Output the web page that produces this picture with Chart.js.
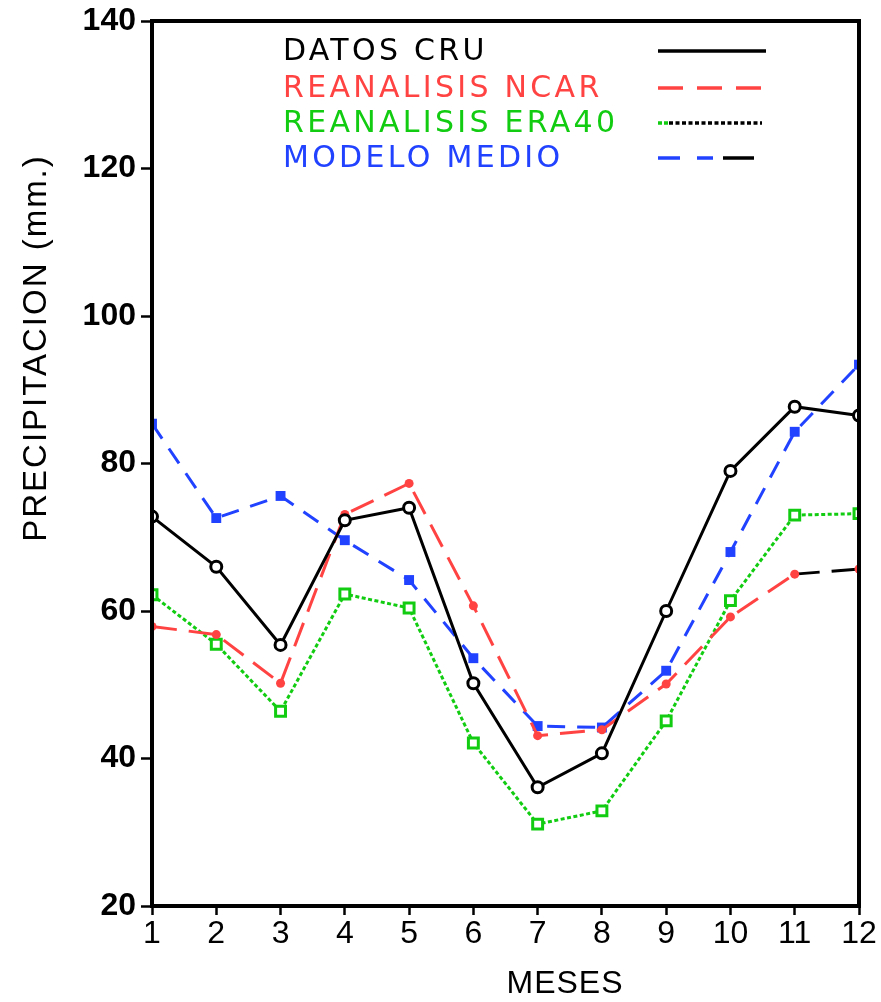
<!DOCTYPE html>
<html>
<head>
<meta charset="utf-8">
<script src="https://cdn.jsdelivr.net/npm/chart.js@4"></script>
<style>
html, body { margin: 0; padding: 0; background: #fff; }
canvas { display: block; }
</style>
</head>
<body>
<canvas id="grafico" width="881" height="1002"></canvas>
<script>
// ================= DATOS =================

const meses = ["1", "2", "3", "4", "5", "6", "7", "8", "9", "10", "11", "12"];

const datosCru = [72.8, 66.0, 55.4, 72.3, 74.0, 50.2, 36.1, 40.7, 60.0, 79.0, 87.7, 86.5];
const reanalisisNcar = [57.9, 56.8, 50.2, 73.1, 77.3, 60.7, 43.1, 43.9, 50.1, 59.2, 65.0, 65.7];
const reanalisisEra40 = [62.2, 55.5, 46.4, 62.3, 60.4, 42.1, 31.1, 32.9, 45.1, 61.4, 73.0, 73.2];
const modeloMedio = [85.4, 72.6, 75.6, 69.6, 64.2, 53.6, 44.4, 44.2, 51.9, 68.0, 84.3, 93.4];

const ticksY = [20, 40, 60, 80, 100, 120, 140];

const ROJO = "#ff4343";
const VERDE = "#12cc12";
const AZUL = "#2142ff";

const fuente = "'Liberation Sans', Arial, sans-serif";

// ================= LEYENDA Y TITULOS =================

const leyendaPlugin = {
    id: "leyenda",
    afterDraw(chart) {
        const ctx = chart.ctx;
        const area = chart.chartArea;

        // marco
        ctx.save();
        ctx.strokeStyle = "#000";
        ctx.lineWidth = 4;
        ctx.strokeRect(area.left, area.top, area.right - area.left, area.bottom - area.top);
        ctx.restore();

        // textos de leyenda
        const filas = [51, 88, 123, 158];
        ctx.save();
        ctx.font = "30px 'DejaVu Sans'";
        ctx.letterSpacing = "3.3px";
        ctx.textBaseline = "middle";
        chart.data.datasets.forEach((ds, i) => {
            ctx.fillStyle = ds.borderColor;
            ctx.fillText(ds.label, 283, filas[i] + 1);
        });
        ctx.restore();

        // muestras de linea
        const tramo = (x1, x2, y, color, dash) => {
            ctx.save();
            ctx.strokeStyle = color;
            ctx.lineWidth = 3.5;
            ctx.setLineDash(dash);
            ctx.beginPath();
            ctx.moveTo(x1, y);
            ctx.lineTo(x2, y);
            ctx.stroke();
            ctx.restore();
        };
        tramo(658, 766, filas[0], "#000", []);
        tramo(658, 766, filas[1], ROJO, [25, 14]);
        tramo(658, 668, filas[2], VERDE, [4, 2]);
        tramo(669, 762, filas[2], "#000", [4, 2.5]);
        tramo(658, 680, filas[3], AZUL, []);
        tramo(697, 713, filas[3], AZUL, []);
        tramo(723, 754, filas[3], "#000", []);

        // titulos de ejes
        ctx.save();
        ctx.fillStyle = "#000";
        ctx.font = "32px " + fuente;
        ctx.letterSpacing = "1px";
        ctx.textAlign = "center";
        ctx.textBaseline = "middle";
        ctx.fillText("MESES", 565, 984);
        ctx.font = "33px " + fuente;
        ctx.letterSpacing = "2px";
        ctx.translate(37, 348);
        ctx.rotate(-Math.PI / 2);
        ctx.fillText("PRECIPITACION (mm.)", 0, 0);
        ctx.restore();
    }
};

// ================= GRAFICO =================

const ctxGrafico = document.getElementById("grafico").getContext("2d");

new Chart(ctxGrafico, {
    type: "line",
    data: {
        labels: meses,
        datasets: [
            {
                label: "DATOS CRU",
                data: datosCru,
                borderColor: "#000",
                borderWidth: 3,
                pointStyle: "circle",
                pointRadius: 5.5,
                pointBorderWidth: 3,
                pointBackgroundColor: "#fff",
                pointBorderColor: "#000",
                clip: 0
            },
            {
                label: "REANALISIS NCAR",
                data: reanalisisNcar,
                borderColor: ROJO,
                borderWidth: 3,
                borderDash: [25, 12],
                segment: {
                    borderColor: c => c.p0DataIndex === 10 ? "#000" : undefined
                },
                pointStyle: "circle",
                pointRadius: 4.5,
                pointBorderWidth: 0,
                pointBackgroundColor: ROJO,
                clip: 0
            },
            {
                label: "REANALISIS ERA40",
                data: reanalisisEra40,
                borderColor: VERDE,
                borderWidth: 3,
                borderDash: [4, 2.5],
                pointStyle: "rect",
                pointRadius: 7,
                pointBorderWidth: 3,
                pointBackgroundColor: "#fff",
                pointBorderColor: VERDE,
                clip: 0
            },
            {
                label: "MODELO MEDIO",
                data: modeloMedio,
                borderColor: AZUL,
                borderWidth: 3,
                borderDash: [18, 12],
                pointStyle: "rect",
                pointRadius: 7,
                pointBorderWidth: 0,
                pointBackgroundColor: AZUL,
                clip: 0
            }
        ]
    },
    options: {
        responsive: false,
        animation: false,
        layout: {
            padding: { left: 0, right: 22, top: 21, bottom: 0 }
        },
        plugins: {
            legend: { display: false },
            tooltip: { enabled: false }
        },
        scales: {
            x: {
                offset: false,
                afterFit: s => { s.height = 96; },
                border: { display: false },
                grid: {
                    drawOnChartArea: false,
                    color: "#000",
                    tickLength: 9,
                    tickWidth: 2.5
                },
                ticks: {
                    color: "#000",
                    padding: 3,
                    maxRotation: 0,
                    autoSkip: false,
                    font: { family: fuente, size: 32, lineHeight: 1 }
                }
            },
            y: {
                min: 20,
                max: 140,
                afterFit: s => { s.width = 152; },
                afterBuildTicks: s => { s.ticks = ticksY.map(v => ({ value: v })); },
                border: { display: false },
                grid: {
                    drawOnChartArea: false,
                    color: "#000",
                    tickLength: 11,
                    tickWidth: 2.5
                },
                ticks: {
                    color: "#000",
                    padding: 5,
                    font: { family: fuente, size: 32, weight: "bold", lineHeight: 1 }
                }
            }
        }
    },
    plugins: [leyendaPlugin]
});
</script>
</body>
</html>
